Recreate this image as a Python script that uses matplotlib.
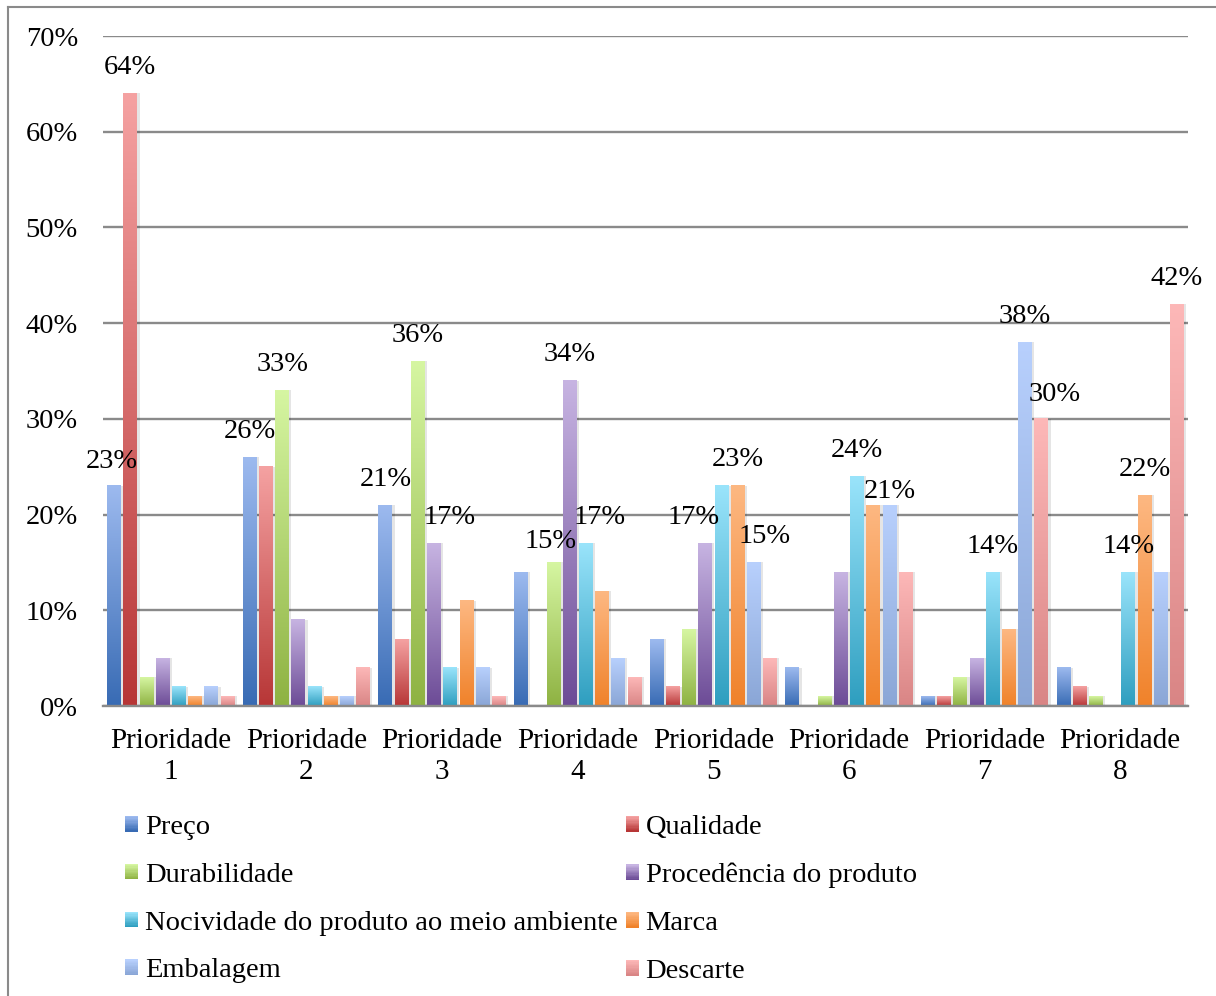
import matplotlib
matplotlib.use("Agg")
import matplotlib.pyplot as plt
import numpy as np
from matplotlib.colors import LinearSegmentedColormap, to_rgb
from matplotlib.patches import Rectangle
from matplotlib.lines import Line2D
from matplotlib.legend_handler import HandlerBase

plt.rcParams['font.family'] = ['Liberation Serif', 'DejaVu Serif']

# dados (%)
categorias = ["Prioridade\n1", "Prioridade\n2", "Prioridade\n3", "Prioridade\n4",
              "Prioridade\n5", "Prioridade\n6", "Prioridade\n7", "Prioridade\n8"]
series = ["Preço", "Qualidade", "Durabilidade", "Procedência do produto",
          "Nocividade do produto ao meio ambiente", "Marca", "Embalagem", "Descarte"]

preco = [23, 26, 21, 14, 7, 4, 1, 4]
qualidade = [64, 25, 7, 0, 2, 0, 1, 2]
durabilidade = [3, 33, 36, 15, 8, 1, 3, 1]
procedencia = [5, 9, 17, 34, 17, 14, 5, 0]
nocividade = [2, 2, 4, 17, 23, 24, 14, 14]
marca = [1, 1, 11, 12, 23, 21, 8, 22]
embalagem = [2, 1, 4, 5, 15, 21, 38, 14]
descarte = [1, 4, 1, 3, 5, 14, 30, 42]

valores = [preco, qualidade, durabilidade, procedencia,
           nocividade, marca, embalagem, descarte]

# (categoria, série) dos rótulos que aparecem no gráfico
rotulos = [(0, 0), (0, 1), (1, 0), (1, 2), (2, 0), (2, 2), (2, 3),
           (3, 2), (3, 3), (3, 4), (4, 3), (4, 5), (4, 6),
           (5, 4), (5, 6), (6, 4), (6, 6), (6, 7), (7, 4), (7, 5), (7, 7)]
# deslocamentos em pixels (x, y) para imitar a posição dos rótulos
desloc = {(0, 0): (-2, 24), (2, 3): (16, 26), (3, 2): (-3, 21), (3, 4): (14, 26),
          (4, 3): (-12, 26), (4, 6): (11, 26), (5, 6): (0, 14), (6, 7): (13, 24)}

# cores (topo claro, base escura)
cores = [("#9dbaef", "#386bb4"), ("#f5a2a2", "#b73636"), ("#d6f6a2", "#8eb242"),
         ("#c7b4e2", "#6c4b96"), ("#9ae4fb", "#2e9ebf"), ("#fdb882", "#f0822a"),
         ("#b8d0fd", "#8aa6d6"), ("#fdb8b8", "#d98585")]

fig = plt.figure(figsize=(12.16, 9.96), dpi=100)
ax = fig.add_axes([103 / 1216, 1 - 706 / 996, (1188 - 103) / 1216, (706 - 36) / 996])

x = np.arange(len(categorias))
slot = 0.1195
larg = 0.101
grad = np.linspace(0, 1, 256).reshape(-1, 1)

for i, vals in enumerate(valores):
    pos = x + (i - 3.5) * slot
    cmap = LinearSegmentedColormap.from_list("c%d" % i, [cores[i][1], cores[i][0]])
    # sombra
    ax.bar(pos + 0.018, vals, larg, bottom=0, color="#000000", alpha=0.10, zorder=2, lw=0)
    bars = ax.bar(pos, vals, larg, color=cores[i][0], zorder=3, lw=0)
    for b in bars:
        h = b.get_height()
        if h <= 0:
            continue
        x0 = b.get_x()
        ax.imshow(grad, extent=[x0, x0 + larg, 0, h], origin="lower", aspect="auto",
                  cmap=cmap, zorder=4, interpolation="bilinear")

for (c, s) in rotulos:
    v = valores[s][c]
    dx, dy = desloc.get((c, s), (0, 26))
    ax.annotate("%d%%" % v, (x[c] + (s - 3.5) * slot, v), xytext=(dx, dy),
                textcoords="offset pixels", ha="center", va="center", fontsize=20.5,
                zorder=6)

ax.set_xlim(-0.5, 7.5)
ax.set_ylim(0, 70)
ax.set_yticks(range(0, 71, 10))
ax.set_yticklabels(["%d%%" % v for v in range(0, 71, 10)], fontsize=20.5)
ax.set_xticks(x)
ax.set_xticklabels(categorias, fontsize=21, linespacing=1.25)
ax.tick_params(axis="y", length=0, pad=18)
ax.tick_params(axis="x", length=0, pad=16)
ax.yaxis.grid(True, color="#8a8a8a", lw=1.7, zorder=1)
ax.set_axisbelow(True)
for sp in ["left", "right", "top"]:
    ax.spines[sp].set_visible(False)
ax.spines["bottom"].set_color("#8a8a8a")
ax.spines["bottom"].set_linewidth(1.7)
ax.spines["bottom"].set_zorder(5)


class Gradiente(HandlerBase):
    def __init__(self, topo, base):
        super().__init__()
        self.topo = np.array(to_rgb(topo))
        self.base = np.array(to_rgb(base))

    def create_artists(self, legend, orig_handle, xdescent, ydescent, width, height, fontsize, trans):
        n = 12
        arts = []
        for k in range(n):
            t = k / (n - 1)
            cor = self.base * (1 - t) + self.topo * t
            r = Rectangle((-xdescent, -ydescent + height * k / n), width, height / n * 1.05,
                          facecolor=cor, lw=0, transform=trans)
            arts.append(r)
        return arts


proxies = [Rectangle((0, 0), 1, 1) for _ in series]
hmap = {p: Gradiente(cores[i][0], cores[i][1]) for i, p in enumerate(proxies)}
ordem = [0, 2, 4, 6, 1, 3, 5, 7]
fig.legend([proxies[i] for i in ordem], [series[i] for i in ordem], handler_map=hmap,
           loc="upper left", bbox_to_anchor=(125 / 1216, 1 - 815 / 996), ncol=2,
           frameon=False, fontsize=20.5, handlelength=0.47, handleheight=0.47,
           handletextpad=0.22, columnspacing=0.3, labelspacing=0.8, borderpad=0,
           borderaxespad=0)

# moldura da figura
fig.add_artist(Line2D([8 / 1216, 8 / 1216], [0, 1 - 7 / 996], transform=fig.transFigure,
                      color="#8a8a8a", lw=1.5))
fig.add_artist(Line2D([8 / 1216, 1], [1 - 7 / 996, 1 - 7 / 996], transform=fig.transFigure,
                      color="#8a8a8a", lw=1.5))

fig.savefig("out.png", dpi=100)
